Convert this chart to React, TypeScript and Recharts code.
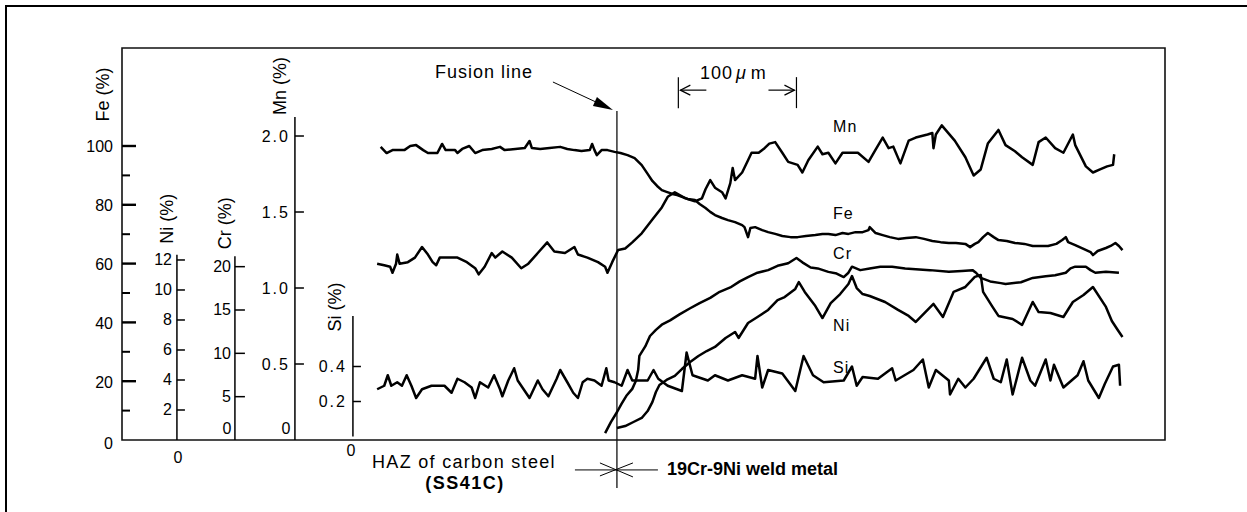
import {
  LineChart,
  Line,
  XAxis,
  YAxis,
  ReferenceArea,
  ReferenceLine,
  ReferenceDot,
} from "recharts";

type Pt = [number, number];

// EPMA line scan, x = distance from the fusion line (µm), value = content (%)
const FE_SCAN: Pt[] = [
  [-200, 99.7], [-195, 97.6], [-190, 98.6], [-180, 98.6], [-175, 100.0], [-170, 100.3],
  [-164, 98.6], [-160, 97.6], [-152, 97.6], [-148, 100.7], [-145, 98.6], [-137, 98.6],
  [-135, 97.6], [-131, 99.0], [-125, 100.0], [-120, 97.6], [-114, 98.6], [-106, 99.0],
  [-99, 99.7], [-95, 98.6], [-86, 99.0], [-78, 99.3], [-74, 101.7], [-72, 99.3],
  [-65, 99.0], [-57, 99.3], [-48, 99.7], [-42, 99.0], [-36, 98.6], [-30, 98.3],
  [-23, 98.6], [-21, 100.7], [-19, 98.6], [-17, 96.9], [-13, 98.6], [-8, 98.6],
  [-2, 98.0], [3, 97.6], [9, 96.9], [15, 95.9], [21, 93.5], [26, 90.5],
  [30, 88.1], [34, 86.4], [38, 85.0], [42, 84.4], [47, 83.7], [51, 83.3],
  [55, 82.7], [60, 82.0], [66, 81.6], [70, 80.3], [75, 78.9], [79, 77.6],
  [83, 76.5], [89, 75.5], [94, 74.8], [100, 74.1], [106, 73.1], [108, 72.4],
  [111, 69.0], [113, 72.1], [117, 72.4], [123, 71.4], [128, 70.7], [134, 70.1],
  [140, 69.4], [147, 69.0], [153, 69.0], [160, 69.4], [168, 69.7], [174, 70.1],
  [179, 70.1], [185, 69.7], [191, 70.4], [196, 70.1], [202, 70.7], [208, 70.7],
  [213, 71.4], [214, 72.4], [219, 70.4], [225, 69.7], [231, 69.0], [238, 68.4],
  [245, 68.7], [253, 69.0], [260, 68.4], [267, 67.7], [274, 67.3], [281, 67.0],
  [287, 67.0], [295, 66.7], [299, 65.6], [303, 66.7], [306, 67.3], [310, 69.0],
  [314, 70.4], [319, 69.0], [323, 68.0], [330, 67.7], [337, 67.0], [345, 66.7],
  [352, 66.0], [359, 66.0], [365, 66.0], [372, 66.7], [377, 68.0], [380, 69.0],
  [382, 67.3], [388, 66.3], [395, 65.0], [401, 63.9], [403, 62.9], [407, 64.3],
  [414, 65.3], [418, 66.0], [422, 67.0], [425, 66.0], [428, 64.6],
];

const MN_SCAN: Pt[] = [
  [-203, 1.16], [-197, 1.15], [-192, 1.14], [-190, 1.10], [-187, 1.16], [-186, 1.22],
  [-184, 1.16], [-177, 1.17], [-171, 1.2], [-165, 1.27], [-160, 1.22], [-156, 1.17],
  [-153, 1.15], [-150, 1.2], [-143, 1.2], [-135, 1.2], [-127, 1.17], [-120, 1.13],
  [-117, 1.09], [-112, 1.14], [-106, 1.23], [-103, 1.2], [-97, 1.24], [-89, 1.2],
  [-81, 1.13], [-75, 1.16], [-67, 1.23], [-59, 1.3], [-53, 1.24], [-44, 1.23],
  [-36, 1.27], [-33, 1.22], [-25, 1.2], [-16, 1.17], [-10, 1.14], [-8, 1.1],
  [-4, 1.17], [1, 1.25], [7, 1.26], [13, 1.3], [21, 1.36], [30, 1.45],
  [38, 1.53], [43, 1.6], [49, 1.63], [58, 1.59], [66, 1.57], [72, 1.59],
  [75, 1.65], [79, 1.71], [83, 1.66], [89, 1.63], [92, 1.59], [96, 1.69],
  [98, 1.79], [100, 1.71], [106, 1.76], [111, 1.84], [114, 1.89], [120, 1.89],
  [125, 1.92], [129, 1.95], [134, 1.96], [140, 1.89], [145, 1.83], [153, 1.81],
  [157, 1.76], [162, 1.84], [170, 1.93], [174, 1.88], [179, 1.89], [185, 1.82],
  [191, 1.89], [196, 1.89], [204, 1.89], [213, 1.83], [219, 1.91], [225, 1.99],
  [230, 1.92], [234, 1.93], [240, 1.82], [247, 1.97], [253, 1.99], [263, 2.01],
  [267, 2.02], [268, 1.92], [270, 2.01], [275, 2.07], [286, 1.97], [295, 1.86],
  [302, 1.74], [308, 1.78], [314, 1.95], [323, 2.04], [329, 1.94], [337, 1.9],
  [343, 1.86], [352, 1.81], [357, 1.96], [363, 1.99], [371, 1.92], [378, 1.89],
  [386, 2.01], [388, 1.94], [397, 1.8], [403, 1.76], [409, 1.78], [415, 1.8],
  [420, 1.81], [421, 1.88],
];

const CR_SCAN: Pt[] = [
  [-10, 0.8], [-5, 2.1], [0, 3.2], [4, 4.2], [8, 5.1], [13, 5.9], [16, 6.8],
  [18, 8.1], [19, 9.7], [24, 10.8], [28, 12.0], [33, 12.7], [38, 13.3], [45, 13.8],
  [53, 14.5], [62, 15.2], [70, 15.8], [79, 16.4], [87, 17.1], [96, 17.6], [104, 18.3],
  [111, 18.8], [119, 19.3], [128, 19.6], [136, 20.1], [145, 20.4], [152, 21.0],
  [157, 20.5], [164, 19.9], [170, 19.8], [179, 19.4], [186, 19.2], [192, 18.8],
  [196, 19.3], [199, 20.0], [206, 19.6], [214, 19.8], [223, 20.0], [233, 20.0],
  [244, 19.8], [253, 19.7], [265, 19.6], [281, 19.4], [292, 19.5], [301, 19.6],
  [304, 19.3], [308, 18.7], [316, 18.3], [325, 18.1], [329, 18.0], [342, 18.2],
  [352, 18.7], [363, 18.9], [371, 19.0], [380, 19.3], [384, 19.8], [388, 20.0],
  [397, 20.0], [401, 19.6], [405, 19.3], [414, 19.4], [425, 19.3],
];

const NI_SCAN: Pt[] = [
  [0, 0.8], [7, 0.93], [14, 1.2], [21, 1.47], [26, 1.93], [30, 2.53], [33, 3.2],
  [36, 3.67], [42, 4.0], [49, 4.27], [55, 4.73], [62, 5.2], [69, 5.6], [76, 5.93],
  [83, 6.2], [92, 6.8], [100, 7.2], [103, 6.8], [111, 7.8], [119, 8.2], [128, 8.67],
  [136, 9.33], [142, 9.53], [151, 10.07], [154, 10.53], [159, 9.87], [168, 8.93],
  [174, 8.13], [181, 9.13], [189, 9.73], [196, 10.4], [199, 10.93], [203, 10.13],
  [208, 9.73], [214, 9.6], [227, 9.2], [238, 8.67], [247, 8.27], [253, 7.87],
  [263, 8.67], [268, 9.07], [276, 8.2], [285, 9.87], [295, 10.2], [303, 10.87],
  [308, 11.0], [310, 9.87], [318, 8.87], [323, 8.27], [335, 8.07], [343, 7.67],
  [352, 9.2], [357, 8.53], [367, 8.47], [378, 8.2], [386, 9.2], [395, 9.67],
  [403, 10.2], [414, 8.87], [419, 7.93], [424, 7.33], [428, 6.87],
];

const SI_SCAN: Pt[] = [
  [-203, 0.27], [-197, 0.29], [-194, 0.35], [-191, 0.29], [-186, 0.31], [-182, 0.29],
  [-178, 0.35], [-174, 0.29], [-170, 0.22], [-165, 0.27], [-157, 0.29], [-146, 0.29],
  [-140, 0.25], [-135, 0.33], [-129, 0.31], [-123, 0.28], [-120, 0.22], [-116, 0.31],
  [-109, 0.28], [-104, 0.35], [-99, 0.27], [-97, 0.23], [-92, 0.32], [-87, 0.39],
  [-84, 0.32], [-80, 0.28], [-74, 0.22], [-67, 0.32], [-63, 0.27], [-58, 0.23],
  [-51, 0.33], [-48, 0.38], [-42, 0.31], [-37, 0.25], [-33, 0.22], [-29, 0.31],
  [-25, 0.33], [-19, 0.32], [-13, 0.29], [-9, 0.39], [-7, 0.32], [-2, 0.31],
  [4, 0.29], [9, 0.38], [13, 0.32], [26, 0.32], [31, 0.38], [35, 0.33],
  [43, 0.29], [55, 0.26], [59, 0.48], [64, 0.35], [77, 0.32], [83, 0.35],
  [94, 0.32], [106, 0.35], [117, 0.33], [119, 0.46], [123, 0.28], [128, 0.38],
  [140, 0.36], [151, 0.26], [158, 0.46], [166, 0.35], [175, 0.31], [192, 0.32],
  [199, 0.4], [203, 0.29], [208, 0.34], [221, 0.33], [233, 0.39], [236, 0.32],
  [251, 0.38], [259, 0.44], [264, 0.28], [270, 0.38], [281, 0.32], [282, 0.24],
  [289, 0.33], [295, 0.28], [302, 0.33], [313, 0.45], [319, 0.33], [325, 0.31],
  [330, 0.44], [335, 0.24], [343, 0.45], [350, 0.32], [354, 0.29], [363, 0.44],
  [367, 0.32], [370, 0.41], [378, 0.28], [390, 0.35], [395, 0.43], [399, 0.32],
  [408, 0.22], [413, 0.3], [420, 0.4], [425, 0.41], [426, 0.29],
];

const FE_TICKS = [0, 10, 20, 30, 40, 50, 60, 70, 80, 90, 100];
const NI_TICKS = [2, 4, 6, 8, 10, 12];
const CR_TICKS = [5, 10, 15, 20];
const MN_TICKS = [0.5, 1.0, 1.5, 2.0];
const SI_TICKS = [0.2, 0.4];

const FONT = '"Liberation Sans", Arial, sans-serif';
const X_DOMAIN: [number, number] = [-419, 464];
const FE_DOMAIN: [number, number] = [0, 133.33];

const rows = (pts: Pt[]) => pts.map(([x, v]) => ({ x, v }));

// the little element axes stand inside the frame
const SUB_AXES = [
  { id: "ni", title: "Ni (%)", at: -372.5, top: 12.35, domain: [0, 26.13], ticks: NI_TICKS, fmt: (v: number) => String(v), len: 8, dx: -5, sp: 0, tdx: -10, tdy: -36, zdx: 1, zdy: 17 },
  { id: "cr", title: "Cr (%)", at: -323.4, top: 21.2, domain: [0, 45.23], ticks: CR_TICKS, fmt: (v: number) => String(v), len: 10, dx: -4, sp: 0, tdx: -10, tdy: -33, zdx: -8, zdy: -12 },
  { id: "mn", title: "Mn (%)", at: -272.6, top: 2.125, domain: [0, 2.579], ticks: MN_TICKS, fmt: (v: number) => v.toFixed(1), len: 9, dx: -5, sp: 2, tdx: -15, tdy: -31, zdx: -9, zdy: -12 },
  { id: "si", title: "Si (%)", at: -223.5, top: 0.689, domain: [-0.02, 2.22], ticks: SI_TICKS, fmt: (v: number) => v.toFixed(1), len: 8, dx: -6, sp: 2, tdx: -18, tdy: -9, zdx: -2, zdy: 14 },
];

const NAME_TAGS: { name: string; at: number }[] = [
  { name: "Mn", at: 106.5 },
  { name: "Fe", at: 76.9 },
  { name: "Cr", at: 63.3 },
  { name: "Ni", at: 38.8 },
  { name: "Si", at: 24.8 },
];

const tickShape = (len: number, text: string, dx: number, dy: number, anchor: string, sp: number, w = 1.5) =>
  (p: any) => (
    <g>
      {len > 0 && <line x1={p.cx} x2={p.cx + len} y1={p.cy} y2={p.cy} stroke="#000" strokeWidth={w} />}
      {text !== "" && (
        <text x={p.cx + dx} y={p.cy + dy} textAnchor={anchor} dominantBaseline="central" fontSize={16} letterSpacing={sp} fill="#000">
          {text}
        </text>
      )}
    </g>
  );

// Fe ticks hang off the frame: drawn from the segment start the library computes
const feTickShape = (value: number) => (p: any) => {
  const major = value % 20 === 0;
  const x = Math.min(p.x1, p.x2);
  const y = p.y1;
  return (
    <g>
      {value > 0 && (
        <line x1={x} x2={x + (major ? 14 : 8)} y1={y} y2={y} stroke="#000" strokeWidth={major ? 2.4 : 2} />
      )}
      {major && (
        <text x={x - 9} y={y + (value === 0 ? 3 : 1)} textAnchor="end" dominantBaseline="central" fontSize={16} fill="#000">
          {value}
        </text>
      )}
    </g>
  );
};

const titleShape = (text: string, dx: number, dy: number) => (p: any) => {
  const x = p.cx + dx;
  const y = p.cy + dy;
  return (
    <text x={x} y={y} transform={`rotate(-90 ${x} ${y})`} textAnchor="middle" dominantBaseline="central" fontSize={18} fill="#000">
      {text}
    </text>
  );
};

const nameShape = (text: string) => (p: any) => (
  <text x={p.cx} y={p.cy} dominantBaseline="central" fontSize={16} letterSpacing={1} fill="#000">
    {text}
  </text>
);

const FusionMark = (p: any) => {
  const x = p.x1;
  const top = Math.min(p.y1, p.y2);
  const bot = Math.max(p.y1, p.y2);
  const s = bot - 18;
  return (
    <g>
      <line x1={x} x2={x} y1={top} y2={bot} stroke="#111" strokeWidth={1.3} />
      <text x={x - 182} y={top - 39} fontSize={18} letterSpacing={1} dominantBaseline="central" fill="#000">
        Fusion line
      </text>
      <line x1={x - 64} y1={top - 29} x2={x - 21} y2={top - 9} stroke="#000" strokeWidth={1} />
      <polygon points={`${x - 4},${top - 1} ${x - 24},${top - 5} ${x - 20},${top - 14}`} fill="#000" />
      <g stroke="#000" strokeWidth={1}>
        <line x1={x - 42} x2={x + 41} y1={s} y2={s} />
        <line x1={x - 17} y1={s - 7} x2={x + 16} y2={s + 7} />
        <line x1={x - 17} y1={s + 6} x2={x + 16} y2={s - 7} />
      </g>
      <text x={x - 153} y={s - 8} textAnchor="middle" dominantBaseline="central" fontSize={18} letterSpacing={1.3} fill="#000">
        HAZ of carbon steel
      </text>
      <text x={x - 152} y={s + 13} textAnchor="middle" dominantBaseline="central" fontSize={18} fontWeight="bold" letterSpacing={1.5} fill="#000">
        (SS41C)
      </text>
      <text x={x + 50} y={s - 1} dominantBaseline="central" fontSize={18} fontWeight="bold" fill="#000">
        19Cr-9Ni weld metal
      </text>
    </g>
  );
};

const ScaleBar = (p: any) => {
  const { x1, x2 } = p;
  const y = p.y1;
  return (
    <g stroke="#000" strokeWidth={1.2} fill="none">
      <line x1={x1} x2={x1} y1={y - 13} y2={y + 18} />
      <line x1={x2} x2={x2} y1={y - 13} y2={y + 18} />
      <line x1={x1 + 2} x2={x1 + 28} y1={y} y2={y} />
      <polyline points={`${x1 + 12},${y - 5} ${x1 + 2},${y} ${x1 + 12},${y + 5}`} />
      <line x1={x2 - 28} x2={x2 - 2} y1={y} y2={y} />
      <polyline points={`${x2 - 12},${y - 5} ${x2 - 2},${y} ${x2 - 12},${y + 5}`} />
      <text x={(x1 + x2) / 2 - 4} y={y - 17} textAnchor="middle" dominantBaseline="central" fill="#000" stroke="none" fontSize={18} letterSpacing={1}>
        100<tspan fontStyle="italic" dx={3}>μ</tspan><tspan dx={4}>m</tspan>
      </text>
    </g>
  );
};

const SERIES = [
  { key: "fe", axis: "fe", pts: FE_SCAN },
  { key: "mn", axis: "mn", pts: MN_SCAN },
  { key: "cr", axis: "cr", pts: CR_SCAN },
  { key: "ni", axis: "ni", pts: NI_SCAN },
  { key: "si", axis: "si", pts: SI_SCAN },
];

export default function App() {
  return (
    <div style={{ position: "absolute", left: 0, top: 0, width: 1247, height: 512, overflow: "hidden", background: "#fff", fontFamily: FONT }}>
      <div style={{ position: "absolute", left: 5, top: 5, width: 1400, height: 700, borderLeft: "2px solid #000", borderTop: "2px solid #000" }} />
      <div style={{ position: "absolute", left: 0, top: 0 }}>
        <LineChart width={1247} height={512} margin={{ top: 48, right: 82, bottom: 72, left: 122 }}>
          <XAxis dataKey="x" type="number" domain={X_DOMAIN} allowDataOverflow hide />
          <YAxis yAxisId="fe" domain={FE_DOMAIN} allowDataOverflow hide />
          {SUB_AXES.map((a) => (
            <YAxis key={a.id} yAxisId={a.id} domain={a.domain} allowDataOverflow hide />
          ))}

          <ReferenceArea
            yAxisId="fe"
            x1={X_DOMAIN[0]}
            x2={X_DOMAIN[1]}
            y1={FE_DOMAIN[0]}
            y2={FE_DOMAIN[1]}
            fill="none"
            stroke="#111"
            strokeWidth={1.6}
            ifOverflow="visible"
          />

          {/* Fe axis is the left side of the frame */}
          {FE_TICKS.map((t) => (
            <ReferenceLine
              key={`fe-t${t}`}
              yAxisId="fe"
              segment={[{ x: X_DOMAIN[0], y: t }, { x: X_DOMAIN[0] + 10, y: t }]}
              ifOverflow="visible"
              shape={feTickShape(t)}
            />
          ))}
          <ReferenceDot yAxisId="fe" x={X_DOMAIN[0]} y={100} r={0} ifOverflow="visible" shape={titleShape("Fe (%)", -18.5, -51.5)} />

          {SUB_AXES.map((a) => (
            <ReferenceLine
              key={`${a.id}-line`}
              yAxisId={a.id}
              segment={[{ x: a.at, y: 0 }, { x: a.at, y: a.top }]}
              stroke="#000"
              strokeWidth={1.5}
              ifOverflow="visible"
            />
          ))}
          {SUB_AXES.flatMap((a) =>
            a.ticks.map((t) => (
              <ReferenceDot
                key={`${a.id}-t${t}`}
                yAxisId={a.id}
                x={a.at}
                y={t}
                r={0}
                ifOverflow="visible"
                shape={tickShape(a.len, a.fmt(t), a.dx, 0, "end", a.sp)}
              />
            ))
          )}
          {SUB_AXES.map((a) => (
            <ReferenceDot
              key={`${a.id}-zero`}
              yAxisId={a.id}
              x={a.at}
              y={0}
              r={0}
              ifOverflow="visible"
              shape={tickShape(0, "0", a.zdx, a.zdy, "middle", 0)}
            />
          ))}
          {SUB_AXES.map((a) => (
            <ReferenceDot
              key={`${a.id}-title`}
              yAxisId={a.id}
              x={a.at}
              y={a.top}
              r={0}
              ifOverflow="visible"
              shape={titleShape(a.title, a.tdx, a.tdy)}
            />
          ))}

          <ReferenceLine
            yAxisId="fe"
            segment={[{ x: 0, y: 111.9 }, { x: 0, y: -16.3 }]}
            ifOverflow="visible"
            shape={FusionMark}
          />
          <ReferenceLine
            yAxisId="fe"
            segment={[{ x: 52, y: 119 }, { x: 152, y: 119 }]}
            ifOverflow="visible"
            shape={ScaleBar}
          />
          {NAME_TAGS.map((n) => (
            <ReferenceDot key={`tag-${n.name}`} yAxisId="fe" x={183} y={n.at} r={0} ifOverflow="visible" shape={nameShape(n.name)} />
          ))}

          {SERIES.map((s) => (
            <Line
              key={s.key}
              yAxisId={s.axis}
              data={rows(s.pts)}
              dataKey="v"
              type="linear"
              dot={false}
              activeDot={false}
              stroke="#000"
              strokeWidth={2.5}
              strokeLinejoin="round"
              isAnimationActive={false}
            />
          ))}
        </LineChart>
      </div>
    </div>
  );
}
